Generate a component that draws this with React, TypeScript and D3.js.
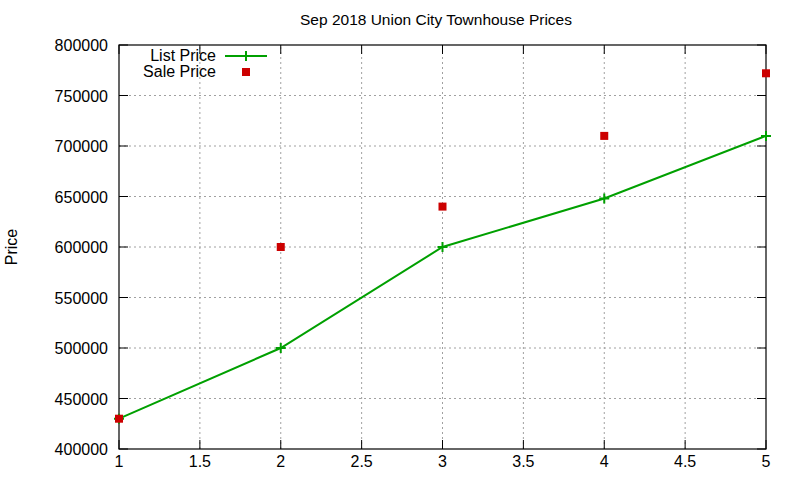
import React, { useEffect, useRef } from 'react'
import * as d3 from 'd3'

const bedrooms = [1, 2, 3, 4, 5]
const listPrice = [430000, 500000, 600000, 648000, 710000]
const salePrice = [430000, 600000, 640000, 710000, 772000]
const xTicks = [1, 1.5, 2, 2.5, 3, 3.5, 4, 4.5, 5]
const yTicks = [400000, 450000, 500000, 550000, 600000, 650000, 700000, 750000, 800000]

export default function App() {
    const ref = useRef<SVGSVGElement | null>(null)

    const width = 800
    const height = 480
    const margin = { left: 119, right: 34, top: 45, bottom: 31 }

    function draw() {
        const svg = d3.select(ref.current)
        svg.selectAll('*').remove()
        const font = 'Liberation Sans, Arial, sans-serif'

        const x = d3.scaleLinear().domain([1, 5]).range([margin.left, width - margin.right])
        const y = d3.scaleLinear().domain([400000, 800000]).range([height - margin.bottom, margin.top])
        const [x0, x1] = x.range()
        const [y0, y1] = y.range()

        svg.append('rect').attr('width', width).attr('height', height).attr('fill', '#fff')

        // grid
        const grid = svg.append('g').attr('stroke', '#a0a0a0').attr('stroke-width', 1).attr('stroke-dasharray', '2,3')
        xTicks.slice(1, -1).forEach(t => {
            grid.append('line').attr('x1', x(t)).attr('x2', x(t)).attr('y1', y0).attr('y2', y1)
        })
        yTicks.slice(1, -1).forEach(t => {
            grid.append('line').attr('x1', x0).attr('x2', x1).attr('y1', y(t)).attr('y2', y(t))
        })

        // ticks (inward, mirrored)
        const ticks = svg.append('g').attr('stroke', '#000').attr('stroke-width', 1)
        xTicks.forEach(t => {
            ticks.append('line').attr('x1', x(t)).attr('x2', x(t)).attr('y1', y0).attr('y2', y0 - 9)
            ticks.append('line').attr('x1', x(t)).attr('x2', x(t)).attr('y1', y1).attr('y2', y1 + 9)
        })
        yTicks.forEach(t => {
            ticks.append('line').attr('x1', x0).attr('x2', x0 + 9).attr('y1', y(t)).attr('y2', y(t))
            ticks.append('line').attr('x1', x1).attr('x2', x1 - 9).attr('y1', y(t)).attr('y2', y(t))
        })

        svg.append('rect')
            .attr('x', x0).attr('y', y1).attr('width', x1 - x0).attr('height', y0 - y1)
            .attr('fill', 'none').attr('stroke', '#000').attr('stroke-width', 1.2)

        // tick labels
        svg.append('g').selectAll('text').data(xTicks).enter().append('text')
            .attr('x', d => x(d)).attr('y', y0 + 18)
            .attr('text-anchor', 'middle')
            .attr('font-family', font).attr('font-size', 16)
            .text(d => String(d))
        svg.append('g').selectAll('text').data(yTicks).enter().append('text')
            .attr('x', x0 - 11).attr('y', d => y(d) + 6)
            .attr('text-anchor', 'end')
            .attr('font-family', font).attr('font-size', 16)
            .text(d => String(d))

        svg.append('text')
            .attr('x', 436).attr('y', 25)
            .attr('text-anchor', 'middle')
            .attr('font-family', font).attr('font-size', 15.5)
            .text('Sep 2018 Union City Townhouse Prices')

        svg.append('text')
            .attr('transform', 'translate(17,247) rotate(-90)')
            .attr('text-anchor', 'middle')
            .attr('font-family', font).attr('font-size', 16)
            .text('Price')

        // list price line
        const line = d3.line<number>()
            .x((d, i) => x(bedrooms[i]))
            .y(d => y(d))
        svg.append('path')
            .datum(listPrice)
            .attr('d', line)
            .attr('fill', 'none').attr('stroke', '#00a000').attr('stroke-width', 2)

        const plus = (g: any, cx: number, cy: number) => {
            g.append('path')
                .attr('d', `M${cx - 5},${cy}H${cx + 5}M${cx},${cy - 5}V${cy + 5}`)
                .attr('stroke', '#00a000').attr('stroke-width', 2)
        }
        const pts = svg.append('g')
        listPrice.forEach((v, i) => plus(pts, x(bedrooms[i]), y(v)))

        svg.append('g').selectAll('rect').data(salePrice).enter().append('rect')
            .attr('x', (d, i) => x(bedrooms[i]) - 4).attr('y', d => y(d) - 4)
            .attr('width', 8).attr('height', 8)
            .attr('fill', '#cc0000')

        // legend
        svg.append('text')
            .attr('x', 216).attr('y', 61)
            .attr('text-anchor', 'end')
            .attr('font-family', font).attr('font-size', 16)
            .text('List Price')
        svg.append('line')
            .attr('x1', 225).attr('x2', 267).attr('y1', 56).attr('y2', 56)
            .attr('stroke', '#00a000').attr('stroke-width', 2)
        plus(svg, 246, 56)
        svg.append('text')
            .attr('x', 216).attr('y', 77)
            .attr('text-anchor', 'end')
            .attr('font-family', font).attr('font-size', 16)
            .text('Sale Price')
        svg.append('rect')
            .attr('x', 242).attr('y', 68).attr('width', 8).attr('height', 8)
            .attr('fill', '#cc0000')
    }

    useEffect(() => {
        draw()
    }, [])

    return (
        <div style={{ position: 'absolute', left: 0, top: 0 }}>
            <svg ref={ref} width={width} height={height} style={{ display: 'block' }} />
        </div>
    )
}
